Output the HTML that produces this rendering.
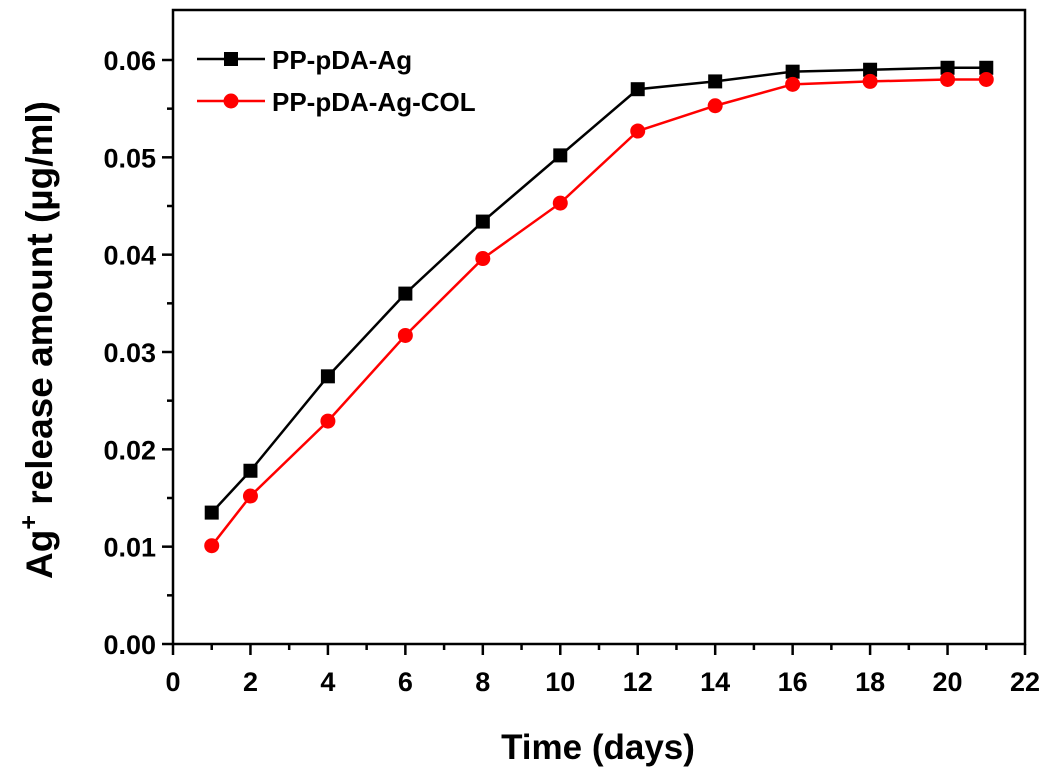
<!DOCTYPE html>
<html><head><meta charset="utf-8"><style>
body{margin:0;background:#fff}
svg{display:block;font-family:"Liberation Sans",sans-serif;font-weight:bold}
</style></head><body>
<svg id="c" width="1050" height="783" viewBox="0 0 1050 783"></svg>
<script>
const days=[1,2,4,6,8,10,12,14,16,18,20,21];
const seriesAg=[0.0135,0.0178,0.0275,0.036,0.0434,0.0502,0.057,0.0578,0.0588,0.059,0.0592,0.0592];
const seriesCol=[0.0101,0.0152,0.0229,0.0317,0.0396,0.0453,0.0527,0.0553,0.0575,0.0578,0.058,0.058];
const xTicks=[0,2,4,6,8,10,12,14,16,18,20,22];
const yTicks=[0,0.01,0.02,0.03,0.04,0.05,0.06];
const yTickLabels=["0.00","0.01","0.02","0.03","0.04","0.05","0.06"];
const L=173,R=1025,T=10,B=644;
const xs=v=>L+(v-0)/22*(R-L);
const ys=v=>B-v/0.06*(B-60);
const svg=document.getElementById('c');
const NS='http://www.w3.org/2000/svg';
function mk(t,a,p){const e=document.createElementNS(NS,t);for(const k in a)e.setAttribute(k,a[k]);(p||svg).appendChild(e);return e;}
let f=mk('rect',{x:L,y:T,width:R-L,height:B-T,fill:'none',stroke:'#000','stroke-width':2.5});


const xg=mk('g',{});


for(let v=0;v<=22;v++){const major=v%2==0;mk('line',{x1:xs(v),x2:xs(v),y1:B,y2:B+(major?11:6),stroke:'#000','stroke-width':2.5},xg);}
xTicks.forEach(v=>{const t=mk('text',{x:xs(v),y:691,'text-anchor':'middle','font-size':27},xg);t.textContent=v;

});
const yg=mk('g',{});


for(let i=0;i<=12;i++){const v=i*0.005;mk('line',{x1:L,x2:L-(i%2==0?11:6),y1:ys(v),y2:ys(v),stroke:'#000','stroke-width':2.5},yg);}
yTicks.forEach((v,i)=>{const t=mk('text',{x:156,y:ys(v)+10,'text-anchor':'end','font-size':27},yg);t.textContent=yTickLabels[i];

});
let xt=mk('text',{x:598,y:759,'text-anchor':'middle','font-size':35});xt.textContent='Time (days)';


let yt=mk('text',{transform:'translate(52,340) rotate(-90)','text-anchor':'middle','font-size':37});
yt.innerHTML='Ag<tspan font-size="25" dy="-15">+</tspan><tspan dy="15"> release amount (µg/ml)</tspan>';


function series(vals,color,shape,name){
 const g=mk('g',{});
 
 
 mk('polyline',{points:days.map((d,i)=>xs(d)+','+ys(vals[i])).join(' '),fill:'none',stroke:color,'stroke-width':2.5},g);
 days.forEach((d,i)=>{let m;
  if(shape=='sq')m=mk('rect',{x:xs(d)-7,y:ys(vals[i])-7,width:14,height:14,fill:color},g);
  else m=mk('circle',{cx:xs(d),cy:ys(vals[i]),r:7.5,fill:color},g);
  
  });
}
series(seriesAg,'#000','sq','series-pp-pda-ag');
series(seriesCol,'#f00','ci','series-pp-pda-ag-col');
const lg=mk('g',{});


mk('line',{x1:197,x2:265,y1:59,y2:59,stroke:'#000','stroke-width':2.5},lg);
mk('rect',{x:224,y:52,width:14,height:14,fill:'#000'},lg);
let l1=mk('text',{x:272,y:69,'font-size':26},lg);l1.textContent='PP-pDA-Ag';


mk('line',{x1:197,x2:265,y1:101,y2:101,stroke:'#f00','stroke-width':2.5},lg);
mk('circle',{cx:231,cy:101,r:7.5,fill:'#f00'},lg);
let l2=mk('text',{x:272,y:111,'font-size':26},lg);l2.textContent='PP-pDA-Ag-COL';


</script>
</body></html>
